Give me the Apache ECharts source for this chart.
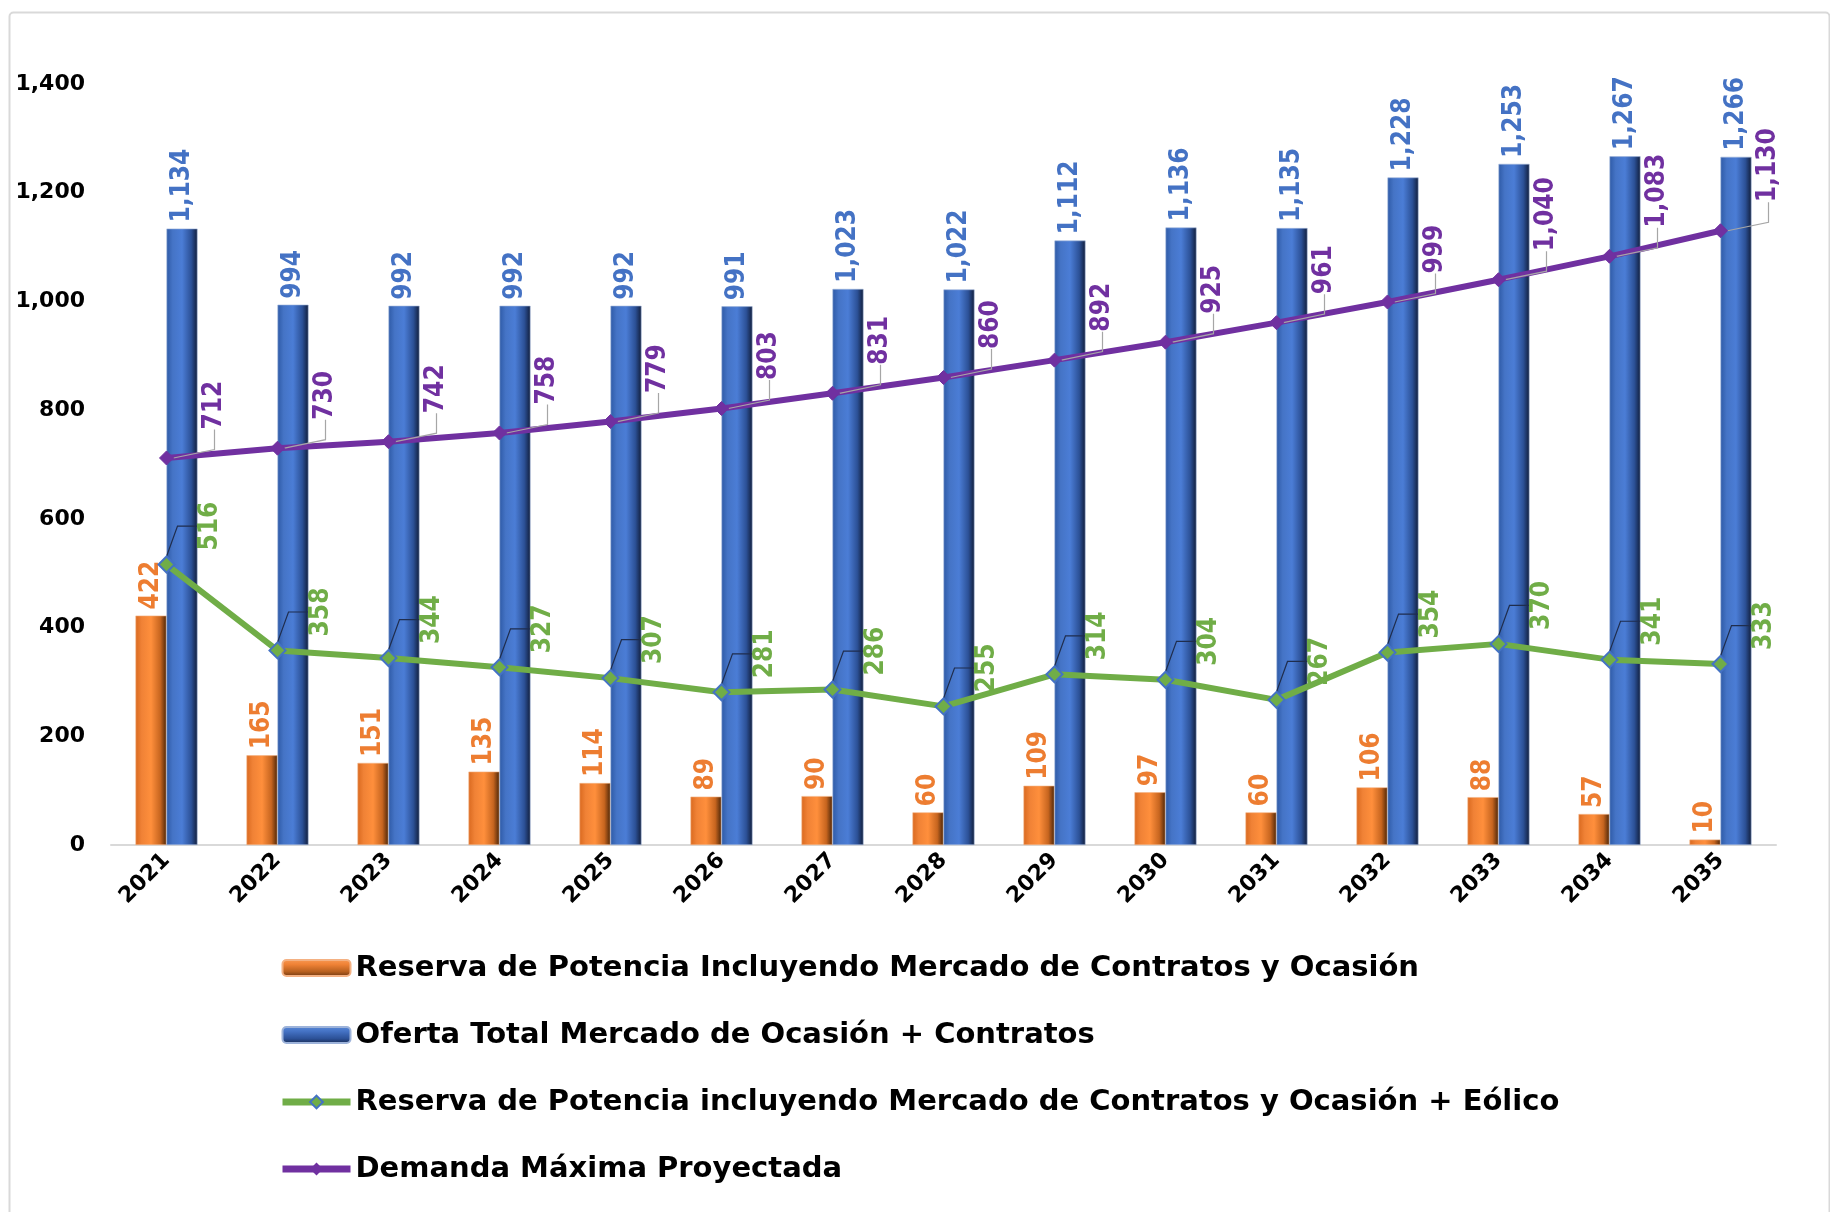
<!DOCTYPE html>
<html>
<head>
<meta charset="utf-8">
<script src="https://cdn.jsdelivr.net/npm/echarts@6/dist/echarts.min.js"></script>
<style>
html,body{margin:0;padding:0;background:#fff;}
#chart{width:1830px;height:1212px;}
</style>
</head>
<body>
<div id="chart"></div>
<script>
const years = ['2021','2022','2023','2024','2025','2026','2027','2028','2029','2030','2031','2032','2033','2034','2035'];
const reservaPotencia = [422,165,151,135,114,89,90,60,109,97,60,106,88,57,10];
const ofertaTotal = [1134,994,992,992,992,991,1023,1022,1112,1136,1135,1228,1253,1267,1266];
const reservaEolico = [516,358,344,327,307,281,286,255,314,304,267,354,370,341,333];
const demandaMaxima = [712,730,742,758,779,803,831,860,892,925,961,999,1040,1083,1130];
const yTicks = [0,200,400,600,800,1000,1200,1400];

const names = [
  'Reserva de Potencia Incluyendo Mercado de Contratos y Ocasión',
  'Oferta Total Mercado de Ocasión + Contratos',
  'Reserva de Potencia incluyendo Mercado de Contratos y Ocasión + Eólico',
  'Demanda Máxima Proyectada'
];

const fmt = v => Number(v).toLocaleString('en-US');
const labelFont = '"Liberation Sans Narrow","DejaVu Sans Condensed","Liberation Sans",sans-serif';

function grad(stops){
  return new echarts.graphic.LinearGradient(0,0,1,0, stops.map(c=>({offset:c[0],color:c[1]})));
}
function vgrad(stops){
  return new echarts.graphic.LinearGradient(0,0,0,1, stops.map(c=>({offset:c[0],color:c[1]})));
}
const orangeGrad = grad([[0,'#D9691F'],[0.2,'#F08236'],[0.5,'#FF8F3C'],[0.8,'#C7651F'],[1,'#4A2508']]);
const blueGrad = grad([[0,'#2E5AA6'],[0.2,'#4574C6'],[0.5,'#4B7DD6'],[0.8,'#2C5197'],[1,'#111D3A']]);
const orangeLeg = vgrad([[0,'#F79A55'],[0.3,'#F08236'],[0.7,'#B8601F'],[1,'#6A3510']]);
const blueLeg = vgrad([[0,'#5A8AD8'],[0.3,'#4472C4'],[0.7,'#2C5197'],[1,'#17294F']]);

const chart = echarts.init(document.getElementById('chart'));
chart.setOption({
  backgroundColor:'#fff',
  animation:false,
  graphic:[{type:'rect',left:7,top:10,shape:{width:1820,height:1230,r:4},style:{fill:'none',stroke:'#D9D9D9',lineWidth:2},z:-1}],
  grid:{left:111,right:54,top:84,bottom:367},
  legend:{
    orient:'vertical',left:274,top:947,itemWidth:68,itemHeight:16,itemGap:35,
    lineStyle:{width:7},
    textStyle:{fontFamily:'"DejaVu Sans",sans-serif',fontWeight:'bold',fontSize:29,color:'#000',lineHeight:32},
    data:[
      {name:names[0],itemStyle:{color:orangeLeg}},
      {name:names[1],itemStyle:{color:blueLeg}},
      {name:names[2]},
      {name:names[3]}
    ]
  },
  xAxis:{
    type:'category',data:years,
    axisLine:{lineStyle:{color:'#D9D9D9',width:2}},
    axisTick:{show:false},
    axisLabel:{rotate:45,margin:12,fontFamily:'"DejaVu Sans",sans-serif',fontWeight:'bold',fontSize:22,color:'#000'}
  },
  yAxis:{
    type:'value',min:yTicks[0],max:yTicks[yTicks.length-1],interval:200,
    splitLine:{show:false},axisLine:{show:false},axisTick:{show:false},
    axisLabel:{margin:26,fontFamily:'"DejaVu Sans",sans-serif',fontWeight:'bold',fontSize:22,color:'#000',formatter:v=>fmt(v)}
  },
  series:[
    {name:names[0],type:'bar',data:reservaPotencia,barWidth:31,barGap:'0%',
     itemStyle:{color:orangeGrad,borderColor:'#F4B183',borderWidth:0.6},
     label:{show:true,position:'top',rotate:90,align:'left',verticalAlign:'middle',distance:6,
       color:'#ED7D31',fontFamily:labelFont,fontWeight:'bold',fontSize:26,formatter:p=>fmt(p.value)}},
    {name:names[1],type:'bar',data:ofertaTotal,barWidth:31,barGap:'0%',
     itemStyle:{color:blueGrad,borderColor:'#9DB3DA',borderWidth:0.6},
     label:{show:true,position:'top',rotate:90,align:'left',verticalAlign:'middle',distance:6,
       color:'#4472C4',fontFamily:labelFont,fontWeight:'bold',fontSize:26,formatter:p=>fmt(p.value)}},
    {name:names[2],type:'line',data:reservaEolico,z:5,
     lineStyle:{color:'#70AD47',width:6},
     symbol:'diamond',symbolSize:16,
     itemStyle:{color:'#70AD47',borderColor:'#4472C4',borderWidth:2},
     label:{show:true,position:'top',rotate:90,align:'left',verticalAlign:'middle',distance:5,
       color:'#70AD47',fontFamily:labelFont,fontWeight:'bold',fontSize:26,formatter:p=>fmt(p.value)},
     labelLayout:{dx:0,dy:44},
     labelLine:{show:true,length2:20,lineStyle:{color:'#1F2D4D',width:1.2}}},
    {name:names[3],type:'line',data:demandaMaxima,z:6,
     lineStyle:{color:'#7030A0',width:6},
     symbol:'diamond',symbolSize:14,
     itemStyle:{color:'#7030A0',borderColor:'#7030A0'},
     label:{show:true,position:'top',rotate:90,align:'left',verticalAlign:'middle',distance:5,
       color:'#7030A0',fontFamily:labelFont,fontWeight:'bold',fontSize:26,formatter:p=>fmt(p.value)},
     labelLayout:{dx:16,dy:48},
     labelLine:{show:true,length2:20,lineStyle:{color:'#A6A6A6',width:1.2}}}
  ]
});
</script>
</body>
</html>
